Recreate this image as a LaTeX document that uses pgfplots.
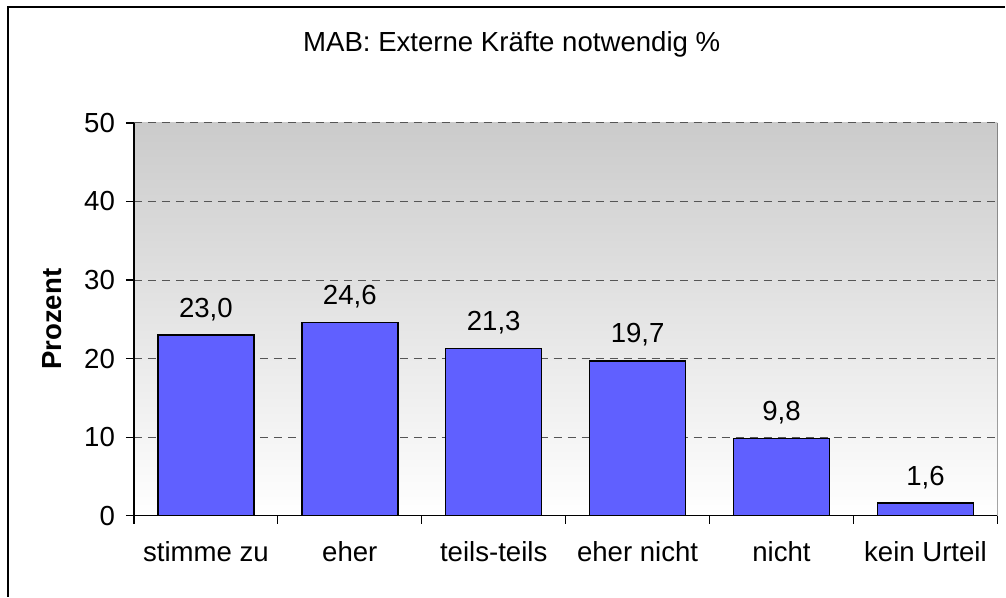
\documentclass[border=0pt]{standalone}
\usepackage{fontspec}
\setmainfont{Liberation Sans}
\usepackage{pgfplots}
\pgfplotsset{compat=1.18}
\definecolor{barBlue}{RGB}{96,96,255}
\definecolor{gridGray}{RGB}{85,85,85}
\definecolor{bgTop}{RGB}{203,203,203}
\newcommand\lbl{\fontsize{13.8}{16}\selectfont}

\begin{document}
\begin{tikzpicture}
\begin{axis}[
    name=ax,
    scale only axis,
    width=432pt, height=196.5pt,
    xmin=-0.5, xmax=5.5,
    ymin=0, ymax=50,
    ytick={0,10,...,50},
    xtick={0,...,5},
    xticklabels={stimme zu, eher, teils-teils, eher nicht, nicht, kein Urteil},
    minor xtick={-0.5,0.5,...,5.5},
    axis x line*=bottom, axis y line*=left,
    axis line style={black, line width=0.6pt, -},
    tick align=outside,
    major tick length=4pt, minor tick length=4pt,
    major x tick style={draw=none},
    minor x tick style={black, line width=0.6pt},
    y tick style={black, line width=0.6pt},
    ymajorgrids,
    major grid style={gridGray, line width=0.5pt, dash pattern=on 4pt off 3pt},
    axis background/.style={top color=bgTop, bottom color=white},
    /pgf/number format/assume math mode=true,
    tick label style={font=\lbl, text=black},
    yticklabel style={anchor=east, xshift=-2pt},
    xticklabel style={anchor=base, yshift=-19pt},
    ylabel={\textbf{Prozent}},
    ylabel style={font=\lbl, at={(axis description cs:-0.0949,0.5)}, rotate=0, anchor=center},
    title={MAB: Externe Kräfte notwendig \%},
    title style={font=\lbl, at={(axis description cs:0.4375,1.1502)}, anchor=base, yshift=0pt},
    ybar, bar width=48pt,
    nodes near coords={\pgfmathprintnumber[fixed,fixed zerofill,precision=1,use comma]{\pgfplotspointmeta}},
    every node near coord/.append style={font=\lbl, anchor=base, yshift=9pt},
]
\addplot[fill=barBlue, draw=black, line width=0.75pt] coordinates {
    (0,23.0) (1,24.6) (2,21.3) (3,19.7) (4,9.8) (5,1.6)
};
\draw[black, line width=0.6pt] (rel axis cs:1,0) -- (rel axis cs:1,1);
\end{axis}
\path ([xshift=-67pt, yshift=-40.5pt]ax.south west) rectangle ([xshift=4pt, yshift=61.5pt]ax.north east);
\draw[black, line width=0.6pt] ([xshift=-63pt, yshift=-40.5pt]ax.south west) |- ([xshift=4pt, yshift=58pt]ax.north east);
\end{tikzpicture}
\end{document}
